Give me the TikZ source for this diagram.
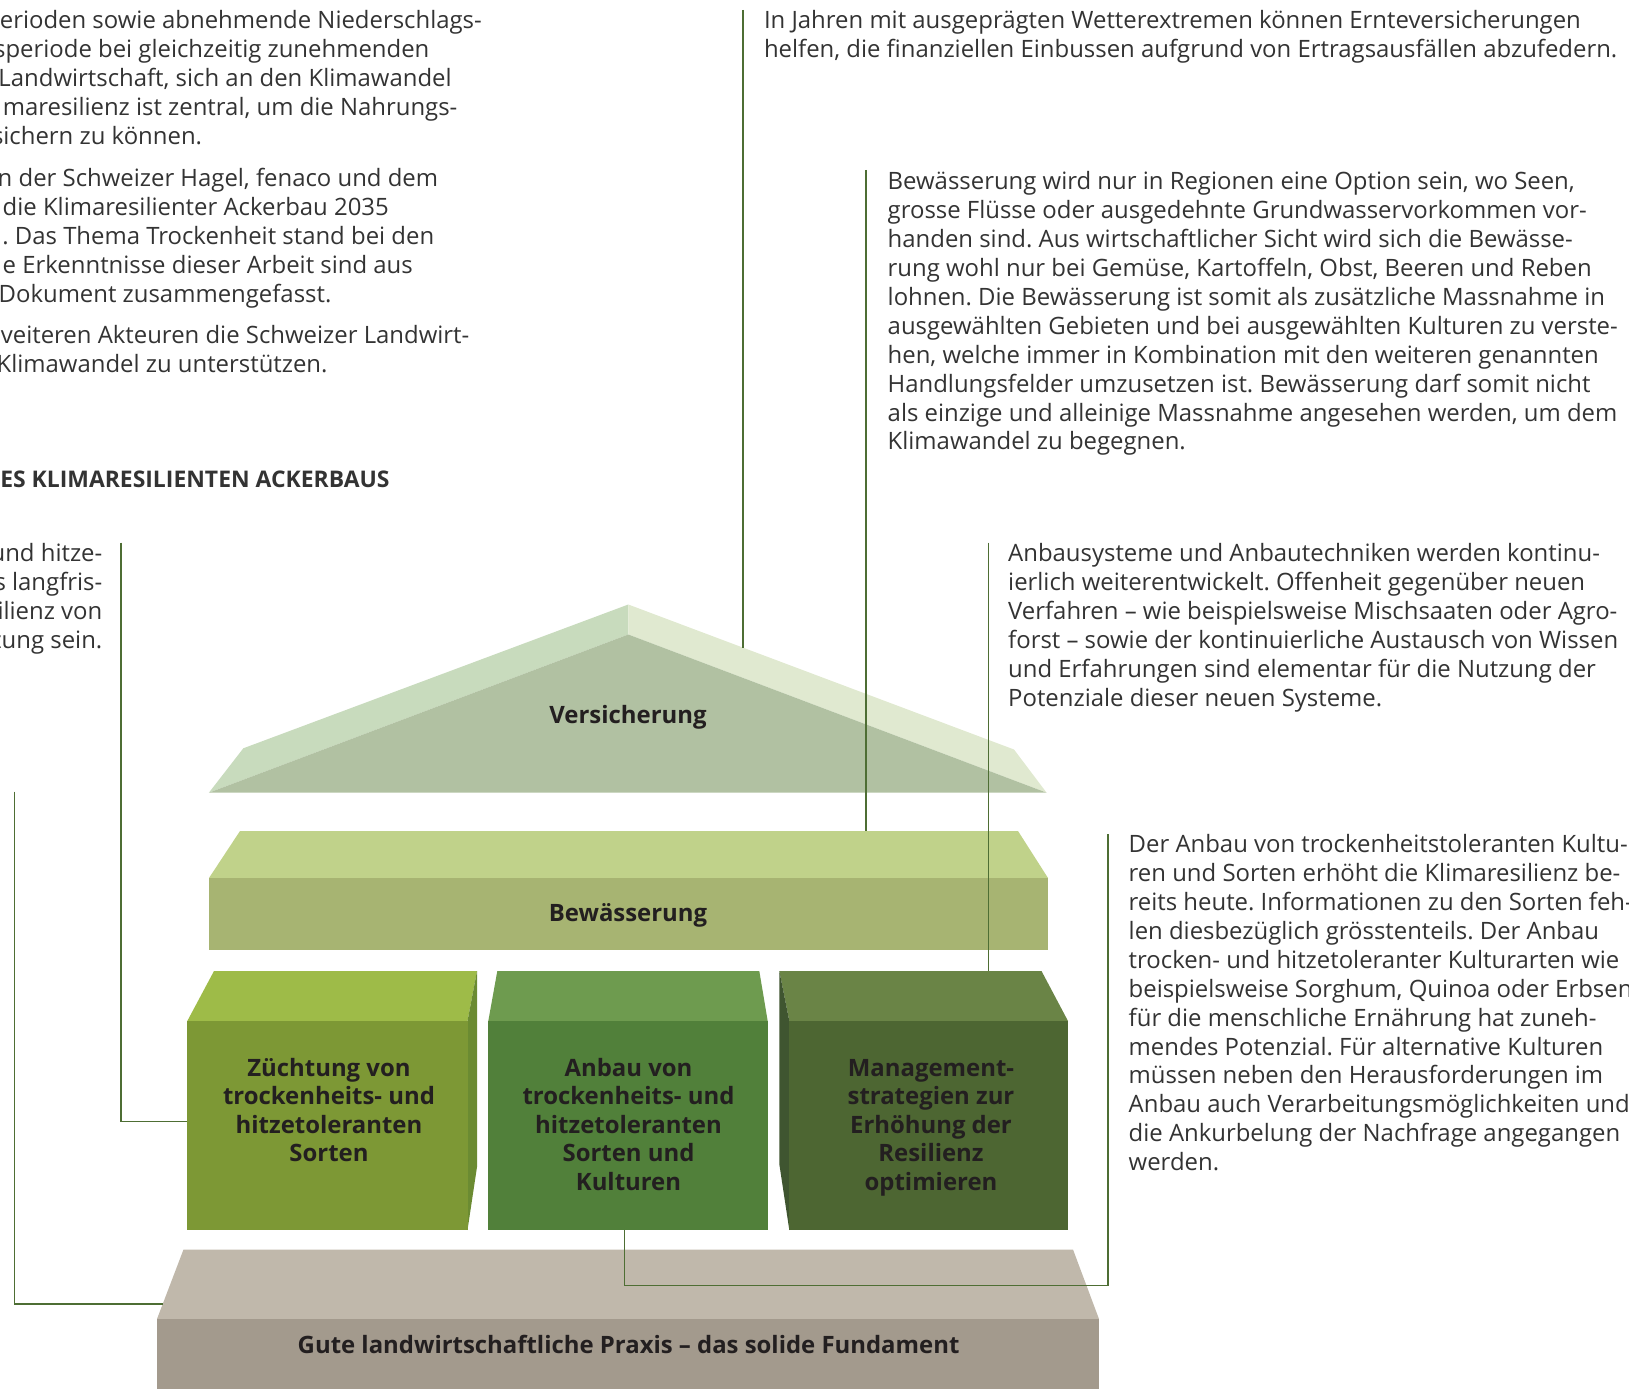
\documentclass[tikz,border=0pt]{standalone}
\usepackage{fontspec}
\setmainfont{Open Sans}
\frenchspacing
\definecolor{txt}{HTML}{333333}
\definecolor{lbltxt}{HTML}{231F20}
\definecolor{linkgreen}{HTML}{4E6E34}
\definecolor{roofL}{HTML}{C8DBBD}
\definecolor{roofR}{HTML}{E0E9D0}
\definecolor{roofF}{HTML}{B1C1A2}
\definecolor{bewT}{HTML}{C0D28A}
\definecolor{bewF}{HTML}{A7B472}
\definecolor{zuT}{HTML}{9EBB48}
\definecolor{zuF}{HTML}{7D9835}
\definecolor{zuS}{HTML}{6B8B32}
\definecolor{anT}{HTML}{6E9B4F}
\definecolor{anF}{HTML}{51803A}
\definecolor{maT}{HTML}{6A8446}
\definecolor{maF}{HTML}{4D6632}
\definecolor{maS}{HTML}{3F5530}
\definecolor{fuT}{HTML}{C0B8AB}
\definecolor{fuF}{HTML}{A39A8D}
\begin{document}
\begin{tikzpicture}[x=1bp,y=-1bp]
\tikzset{
  body/.style={inner sep=0pt, font=\fontsize{24}{28.9}\selectfont, text=txt},
  head/.style={inner sep=0pt, font=\bfseries\fontsize{23}{28.9}\selectfont, text=txt},
  lbl/.style={inner sep=0pt, font=\bfseries\fontsize{24}{28.6}\selectfont, text=lbltxt},
  link/.style={draw=linkgreen, line width=1.1bp},
}
\useasboundingbox (0,0) rectangle (1629,1389);
\clip (0,0) rectangle (1629,1389);

% ---------- roof: Versicherung ----------
\coordinate (apex)  at (628.3,604.5);
\coordinate (iapex) at (628.3,634.5);
\coordinate (rl)    at (208.9,792.7);
\coordinate (rr)    at (1046.6,792.7);
\coordinate (bl)    at (243.3,748.3);
\coordinate (br)    at (1014,749.5);
\fill[roofL] (rl) -- (bl) -- (apex) -- (iapex) -- cycle;
\fill[roofR] (apex) -- (br) -- (rr) -- (iapex) -- cycle;
\fill[roofF] (rl) -- (iapex) -- (rr) -- cycle;
\node[lbl, anchor=base] (vers) at (628,723.5) {Versicherung};

% ---------- beam: Bewässerung ----------
\fill[bewT] (240,831) -- (1018,831) -- (1048,878) -- (209,878) -- cycle;
\fill[bewF] (209,878) rectangle (1048,949.5);
\node[lbl, anchor=base] (bew) at (628,921) {Bewässerung};

% ---------- pillar 1 ----------
\fill[zuT] (214,971) -- (477,971) -- (467.5,1021) -- (187.3,1021) -- cycle;
\fill[zuS] (477,971) -- (477,1167) -- (467.5,1230) -- (467.5,1021) -- cycle;
\fill[zuF] (187.3,1021) rectangle (467.5,1230);
\foreach \s [count=\i] in {Züchtung von,trockenheits- und,hitzetoleranten,Sorten}
  \node[lbl, anchor=base] (zu\i) at (329,{1076+(\i-1)*28.6}) {\s};

% ---------- pillar 2 ----------
\fill[anT] (497.3,971) -- (759.3,971) -- (767.7,1021) -- (488.3,1021) -- cycle;
\fill[anF] (488.3,1021) rectangle (767.7,1230);
\foreach \s [count=\i] in {Anbau von,trockenheits- und,hitzetoleranten,Sorten und,Kulturen}
  \node[lbl, anchor=base] (an\i) at (628.5,{1076+(\i-1)*28.6}) {\s};

% ---------- pillar 3 ----------
\fill[maT] (779.3,971) -- (1041.5,971) -- (1068,1021) -- (789.3,1021) -- cycle;
\fill[maS] (779.3,971) -- (789.3,1021) -- (789.3,1230) -- (779.3,1164) -- cycle;
\fill[maF] (789.3,1021) rectangle (1068,1230);
\foreach \s [count=\i] in {Management-,strategien zur,Erhöhung der,Resilienz,optimieren}
  \node[lbl, anchor=base] (ma\i) at (931,{1076+(\i-1)*28.6}) {\s};

% ---------- foundation ----------
\fill[fuT] (183.5,1249.5) -- (1073,1249.5) -- (1099,1319) -- (157,1319) -- cycle;
\fill[fuF] (157,1319) rectangle (1099,1395);
\node[lbl, anchor=base] (fund) at (628.6,1353.5) {Gute landwirtschaftliche Praxis – das solide Fundament};

% ---------- introduction (left column) ----------
\foreach \r/\y/\s [count=\i] in {
  482.0/29.0/{erioden sowie abnehmende Niederschlags-},
  429.5/57.9/{speriode bei gleichzeitig zunehmenden},
  451.8/86.8/{Landwirtschaft, sich an den Klimawandel},
  457.6/115.7/{maresilienz ist zentral, um die Nahrungs-},
  202.2/144.6/{sichern zu können.},
  438.3/186.7/{n der Schweizer Hagel, fenaco und dem},
  389.0/215.6/{die Klimaresilienter Ackerbau 2035},
  434.4/244.5/{. Das Thema Trockenheit stand bei den},
  413.0/273.4/{e Erkenntnisse dieser Arbeit sind aus},
  331.6/302.3/{Dokument zusammengefasst.},
  469.5/343.6/{veiteren Akteuren die Schweizer Landwirt-},
  327.7/372.5/{Klimawandel zu unterstützen.}}
  \node[body, anchor=base east] (intro\i) at (\r,\y) {\s};
\node[head, anchor=base east] (title) at (389.7,487) {ES KLIMARESILIENTEN ACKERBAUS};

% ---------- note: breeding ----------
\foreach \s [count=\i] in {und hitze-,s langfris-,ilienz von,zung sein.}
  \node[body, anchor=base east] (nz\i) at (102.5,{561.7+(\i-1)*28.9}) {\s};

% ---------- note: insurance ----------
\foreach \s [count=\i] in {
  {In Jahren mit ausgeprägten Wetterextremen können Ernteversicherungen},
  {helfen, die finanziellen Einbussen aufgrund von Ertragsausfällen abzufedern.}}
  \node[body, anchor=base west] (nv\i) at (763.8,{28.7+(\i-1)*28.9}) {\s};

% ---------- note: irrigation ----------
\foreach \s [count=\i] in {
  {Bewässerung wird nur in Regionen eine Option sein, wo Seen,},
  {grosse Flüsse oder ausgedehnte Grundwasservorkommen vor-},
  {handen sind. Aus wirtschaftlicher Sicht wird sich die Bewässe-},
  {rung wohl nur bei Gemüse, Kartoffeln, Obst, Beeren und Reben},
  {lohnen. Die Bewässerung ist somit als zusätzliche Massnahme in},
  {ausgewählten Gebieten und bei ausgewählten Kulturen zu verste-},
  {hen, welche immer in Kombination mit den weiteren genannten},
  {Handlungsfelder umzusetzen ist. Bewässerung darf somit nicht},
  {als einzige und alleinige Massnahme angesehen werden, um dem},
  {Klimawandel zu begegnen.}}
  \node[body, anchor=base west] (nb\i) at (887.5,{189.8+(\i-1)*28.9}) {\s};

% ---------- note: management ----------
\foreach \s [count=\i] in {
  {Anbausysteme und Anbautechniken werden kontinu-},
  {ierlich weiterentwickelt. Offenheit gegenüber neuen},
  {Verfahren – wie beispielsweise Mischsaaten oder Agro-},
  {forst – sowie der kontinuierliche Austausch von Wissen},
  {und Erfahrungen sind elementar für die Nutzung der},
  {Potenziale dieser neuen Systeme.}}
  \node[body, anchor=base west] (nm\i) at (1008,{561.7+(\i-1)*28.9}) {\s};

% ---------- note: cultivation ----------
\foreach \s [count=\i] in {
  {Der Anbau von trockenheitstoleranten Kultu-},
  {ren und Sorten erhöht die Klimaresilienz be-},
  {reits heute. Informationen zu den Sorten feh-},
  {len diesbezüglich grösstenteils. Der Anbau},
  {trocken- und hitzetoleranter Kulturarten wie},
  {beispielsweise Sorghum, Quinoa oder Erbsen},
  {für die menschliche Ernährung hat zuneh-},
  {mendes Potenzial. Für alternative Kulturen},
  {müssen neben den Herausforderungen im},
  {Anbau auch Verarbeitungsmöglichkeiten und},
  {die Ankurbelung der Nachfrage angegangen},
  {werden.}}
  \node[body, anchor=base west] (na\i) at (1128.5,{852.7+(\i-1)*28.9}) {\s};

% ---------- connectors ----------
\coordinate (vTop) at (743,10);
\coordinate (vEnd) at (743,647.6);
\draw[link] (vTop) -- (vEnd);

\coordinate (bTop) at (866,170);
\coordinate (bEnd) at (866,831);
\draw[link] (bTop) -- (bEnd);

\coordinate (mTop) at (988.3,542.5);
\coordinate (mEnd) at (988.3,971);
\draw[link] (mTop) -- (mEnd);

\coordinate (aStart) at (624.5,1230);
\coordinate (aTurn)  at (1108,1285.4);
\coordinate (aTop)   at (1108,834);
\draw[link] (aStart) |- (aTurn) -- (aTop);

\coordinate (zTop) at (121,542.5);
\coordinate (zEnd) at (187.3,1121.7);
\draw[link] (zTop) |- (zEnd);

\coordinate (fTop) at (14.8,791.7);
\coordinate (fEnd) at (162.7,1304);
\draw[link] (fTop) |- (fEnd);
\end{tikzpicture}
\end{document}
